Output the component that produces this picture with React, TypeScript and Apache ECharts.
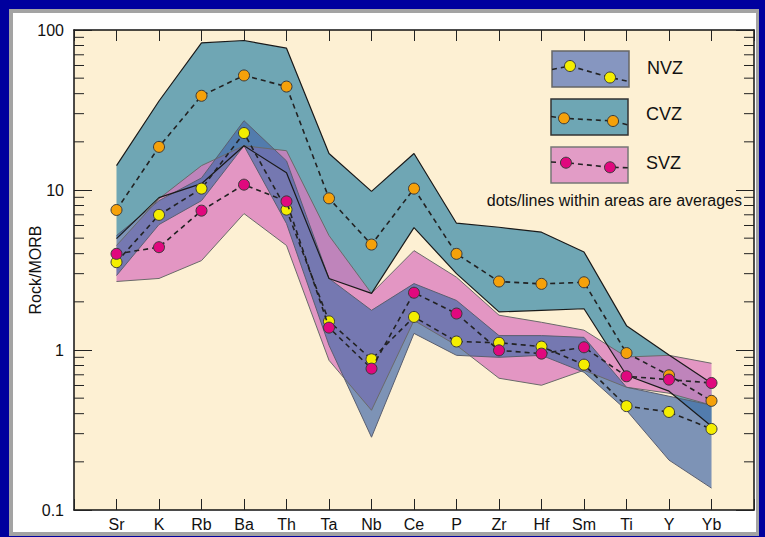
import React, { useEffect, useRef } from 'react';
import * as echarts from 'echarts';

// ---- data ----
const categories = ['Sr', 'K', 'Rb', 'Ba', 'Th', 'Ta', 'Nb', 'Ce', 'P', 'Zr', 'Hf', 'Sm', 'Ti', 'Y', 'Yb'];

const nvzAvg = [3.54, 6.99, 10.2, 22.7, 7.54, 1.51, 0.875, 1.61, 1.13, 1.11, 1.05, 0.81, 0.446, 0.41, 0.321];
const cvzAvg = [7.5, 18.6, 38.8, 52, 44.3, 8.87, 4.56, 10.2, 3.99, 2.68, 2.59, 2.65, 0.957, 0.695, 0.481];
const svzAvg = [3.99, 4.39, 7.43, 10.8, 8.49, 1.38, 0.765, 2.28, 1.69, 0.995, 0.949, 1.04, 0.685, 0.653, 0.622];

const cvzMax = [14.2, 36, 83, 86, 77, 16.9, 9.8, 16.9, 6.2, 5.85, 5.45, 4.1, 1.42, 0.93, 0.62];
const cvzMin = [4.97, 8.96, 10.95, 18.9, 12.8, 2.8, 2.26, 5.82, 3.0, 1.73, 1.77, 1.81, 0.695, 0.553, 0.334];

const svzMax = [4.5, 8.83, 14.2, 18.9, 17.6, 5.19, 2.26, 4.18, 2.85, 1.65, 1.49, 1.33, 0.904, 0.926, 0.826];
const svzMin = [2.68, 2.8, 3.62, 7.12, 4.5, 0.862, 0.42, 1.53, 1.07, 0.666, 0.602, 0.747, 0.585, 0.537, 0.452];

const nvzMax = [5.19, 8.58, 11.9, 27.1, 15.2, 2.8, 1.77, 2.6, 2.04, 1.23, 1.23, 1.2, 0.585, 0.514, 0.452];
const nvzMin = [2.92, 6.08, 8.58, 18.9, 6.17, 1.07, 0.285, 1.27, 0.926, 0.9, 0.926, 0.726, 0.42, 0.205, 0.137];

const yTickLabels = ['0.1', '1', '10', '100'];
const minorTickValues = [
  0.2, 0.3, 0.4, 0.5, 0.6, 0.7, 0.8, 0.9,
  2, 3, 4, 5, 6, 7, 8, 9,
  20, 30, 40, 50, 60, 70, 80, 90,
];

const FONT = "'Liberation Sans', Arial, Helvetica, sans-serif";

function bandFill(name: string, upper: number[], lower: number[], fill: string, z: number) {
  return {
    type: 'custom',
    name,
    coordinateSystem: 'cartesian2d',
    silent: true,
    z,
    data: categories.map((_, i) => [i, lower[i], upper[i]]),
    encode: { x: 0, y: [1, 2] },
    renderItem: (params: any, api: any) => {
      if (params.dataIndexInside !== 0) return null;
      const n = params.dataInsideLength;
      const top: number[][] = [];
      const bot: number[][] = [];
      for (let i = 0; i < n; i++) {
        const x = api.value(0, i);
        top.push(api.coord([x, api.value(2, i)]));
        bot.push(api.coord([x, api.value(1, i)]));
      }
      return {
        type: 'polygon',
        shape: { points: top.concat(bot.reverse()) },
        style: { fill, stroke: null },
      };
    },
  };
}

function outline(values: number[], color: string, width: number, z: number) {
  return {
    type: 'line',
    silent: true,
    z,
    data: values.map((v, i) => [i, v]),
    showSymbol: false,
    symbol: 'none',
    lineStyle: { color, width },
  };
}

function avgLine(name: string, values: number[], color: string, z: number) {
  return {
    type: 'line',
    name,
    z,
    data: values.map((v, i) => [i, v]),
    symbol: 'circle',
    symbolSize: 11,
    showSymbol: true,
    itemStyle: { color, borderColor: '#3a3a3a', borderWidth: 1 },
    lineStyle: { color: '#222', width: 1.6, type: [5, 4] },
  };
}

function legendBox(x: number, y: number, fill: string, stroke: string, line: number[][], dot: string, label: string, ty: number) {
  return [
    { type: 'rect', z: 100, shape: { x, y, width: 77, height: 36 }, style: { fill, stroke, lineWidth: 1.5 } },
    { type: 'polyline', z: 101, shape: { points: line }, style: { stroke: '#222', lineWidth: 1.6, lineDash: [5, 4], fill: null } },
    { type: 'circle', z: 102, shape: { cx: line[1][0], cy: line[1][1], r: 5.5 }, style: { fill: dot, stroke: '#3a3a3a', lineWidth: 1 } },
    { type: 'circle', z: 102, shape: { cx: line[2][0], cy: line[2][1], r: 5.5 }, style: { fill: dot, stroke: '#3a3a3a', lineWidth: 1 } },
    { type: 'text', z: 102, x: x + 95, y: ty, style: { text: label, fontSize: 18, fontFamily: FONT, fill: '#111', align: 'left', verticalAlign: 'middle' } },
  ];
}

export default function App() {
  const ref = useRef<HTMLDivElement>(null);

  useEffect(() => {
    if (!ref.current) return;
    const chart = echarts.init(ref.current, null, { renderer: 'svg' });

    const axisLineStyle = { color: '#111', width: 1.5 };

    const option: any = {
      animation: false,
      backgroundColor: 'transparent',
      grid: {
        left: 74,
        top: 30,
        width: 680,
        height: 480,
        show: true,
        backgroundColor: '#fdf0d3',
        borderWidth: 0,
      },
      xAxis: [
        {
          type: 'value',
          min: -1,
          max: 15,
          interval: 1,
          position: 'bottom',
          axisLine: { show: true, onZero: false, lineStyle: axisLineStyle },
          axisTick: { show: true, inside: true, length: 11, lineStyle: { color: '#222', width: 1 } },
          axisLabel: {
            formatter: (v: number) => categories[v] ?? '',
            fontSize: 16,
            fontFamily: FONT,
            color: '#111',
            margin: 6,
          },
          splitLine: { show: false },
        },
        {
          type: 'value',
          min: -1,
          max: 15,
          interval: 1,
          position: 'top',
          axisLine: { show: true, onZero: false, lineStyle: axisLineStyle },
          axisTick: { show: true, inside: true, length: 11, lineStyle: { color: '#222', width: 1 } },
          axisLabel: { show: false },
          splitLine: { show: false },
        },
      ],
      yAxis: [
        {
          type: 'log',
          logBase: 10,
          min: 0.1,
          max: 100,
          position: 'left',
          name: 'Rock/MORB',
          nameLocation: 'middle',
          nameGap: 31,
          nameMoveOverlap: false,
          nameRotate: 90,
          nameTextStyle: { fontSize: 16, fontFamily: FONT, color: '#111' },
          axisLine: { show: true, onZero: false, lineStyle: axisLineStyle },
          axisTick: { show: true, inside: true, length: 18, lineStyle: { color: '#222', width: 1 } },
          axisLabel: {
            fontSize: 16,
            fontFamily: FONT,
            color: '#111',
            margin: 10,
            formatter: (v: number) => {
              const k = Math.round(Math.log10(v)) + 1;
              return yTickLabels[k] ?? '';
            },
          },
          splitLine: { show: false },
        },
        {
          type: 'log',
          logBase: 10,
          min: 0.1,
          max: 100,
          position: 'right',
          axisLine: { show: true, onZero: false, lineStyle: axisLineStyle },
          axisTick: { show: true, inside: true, length: 18, lineStyle: { color: '#222', width: 1 } },
          axisLabel: { show: false },
          splitLine: { show: false },
        },
      ],
      graphic: {
        elements: [
          ...legendBox(552, 51, '#8696c0', '#666', [[552, 69.5], [570, 66], [610, 77.5], [629, 81.5]], '#f4ee00', 'NVZ', 68),
          ...legendBox(551, 99, '#6ea6b4', '#333', [[551, 116.5], [564, 118.3], [613, 121], [628, 125]], '#f5a10a', 'CVZ', 114),
          ...legendBox(551, 147, '#e29cc6', '#777', [[551, 162], [566, 162.7], [610, 167.3], [628, 167.7]], '#e0087e', 'SVZ', 163),
          {
            type: 'text',
            z: 102,
            x: 742,
            y: 200,
            style: {
              text: 'dots/lines within areas are averages',
              fontSize: 16,
              fontFamily: FONT,
              fill: '#111',
              align: 'right',
              verticalAlign: 'middle',
            },
          },
        ],
      },
      series: [
        bandFill('CVZ range', cvzMax, cvzMin, '#6fa6b4', 1),
        bandFill('SVZ range', svzMax, svzMin, 'rgba(217,120,189,0.75)', 2),
        bandFill('NVZ range', nvzMax, nvzMin, 'rgba(70,107,170,0.7)', 3),
        outline(svzMax, '#6a6a6a', 1, 4),
        outline(svzMin, '#6a6a6a', 1, 4),
        outline(nvzMax, '#5a5f70', 1, 4),
        outline(nvzMin, '#5a5f70', 1, 4),
        outline(cvzMax, '#1a1a1a', 1.2, 5),
        outline(cvzMin, '#1a1a1a', 1.2, 5),
        avgLine('CVZ', cvzAvg, '#f5a10a', 6),
        avgLine('NVZ', nvzAvg, '#f4ee00', 7),
        avgLine('SVZ', svzAvg, '#e0087e', 8),
        {
          type: 'custom',
          name: 'minor ticks',
          coordinateSystem: 'cartesian2d',
          silent: true,
          z: 9,
          data: minorTickValues.map((v) => [0, v]),
          encode: { x: 0, y: 1 },
          renderItem: (_params: any, api: any) => {
            const v = api.value(1);
            const y = api.coord([0, v])[1];
            const xl = api.coord([-1, v])[0];
            const xr = api.coord([15, v])[0];
            return {
              type: 'group',
              children: [
                { type: 'line', shape: { x1: xl, y1: y, x2: xl + 10, y2: y }, style: { stroke: '#222', lineWidth: 1 } },
                { type: 'line', shape: { x1: xr - 10, y1: y, x2: xr, y2: y }, style: { stroke: '#222', lineWidth: 1 } },
              ],
            };
          },
        },
      ],
    };

    chart.setOption(option);
    return () => chart.dispose();
  }, []);

  return (
    <div style={{ position: 'fixed', left: 0, top: 0, width: 765, height: 537, background: '#00009e', overflow: 'hidden' }}>
      <div style={{ position: 'absolute', left: 9, top: 9, width: 750, height: 527, background: '#a3a3a3' }} />
      <div style={{ position: 'absolute', left: 13, top: 13, width: 743, height: 519, background: '#ffffff' }} />
      <div ref={ref} style={{ position: 'absolute', left: 0, top: 0, width: 765, height: 537 }} />
    </div>
  );
}
